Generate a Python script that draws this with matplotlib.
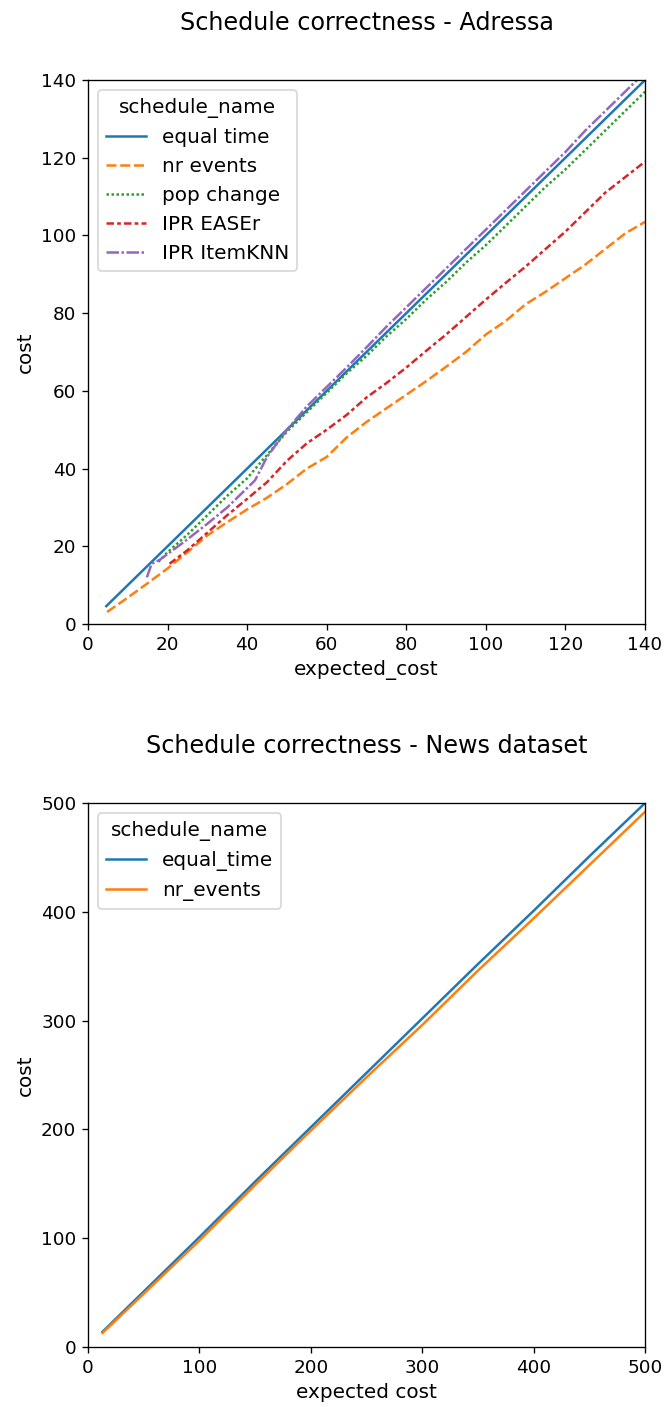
import matplotlib.pyplot as plt

# Adressa schedules (expected_cost -> cost)
eq_x = [4.6, 10, 20, 30, 40, 50, 60, 70, 80, 90, 100, 110, 120, 130, 140]
eq_y = [4.6, 10, 20, 30, 40, 50, 60, 70, 80, 90, 100, 110, 120, 130, 140]

nr_x = [4.8, 10, 15, 20, 25, 30, 35, 40, 45, 50, 55, 60, 65, 70, 75, 80, 85, 90,
        95, 100, 105, 110, 115, 120, 125, 130, 135, 140]
nr_y = [3.1, 6.8, 10.5, 14.3, 18.5, 22.8, 26.2, 29.5, 32.5, 36.0, 40.0, 43.0, 48.0,
        52.0, 55.5, 59.0, 62.5, 66.2, 70.0, 74.5, 78.0, 82.3, 85.5, 89.0, 92.5,
        96.5, 100.5, 103.5]

pop_x = [17.7, 20, 25, 30, 35, 40, 45, 50, 55, 60, 65, 70, 75, 80, 85, 90, 95,
         100, 105, 110, 115, 120, 125, 130, 135, 140]
pop_y = [16.0, 18.5, 23.0, 28.0, 33.0, 37.5, 43.5, 49.5, 54.5, 59.5, 64.5, 69.0,
         74.0, 78.5, 83.5, 88.0, 93.0, 97.5, 102.5, 107.5, 112.5, 117.0, 122.0,
         127.0, 132.0, 137.0]

ease_x = [20.5, 25, 30, 35, 40, 45, 50, 55, 60, 65, 70, 75, 80, 85, 90, 95, 100,
          105, 110, 115, 120, 125, 130, 135, 140]
ease_y = [15.5, 19.0, 23.5, 28.0, 32.2, 36.5, 42.0, 46.5, 50.0, 53.8, 58.3, 62.0,
          66.0, 70.3, 74.5, 79.0, 83.5, 87.8, 92.0, 96.5, 101.0, 106.0, 111.0,
          115.0, 119.0]

knn_x = [14.8, 16, 18, 20, 25, 30, 35, 40, 42, 45, 50, 55, 60, 65, 70, 75, 80, 85,
         90, 95, 100, 105, 110, 115, 120, 125, 130, 135, 140]
knn_y = [12.0, 15.5, 16.5, 18.0, 21.8, 25.8, 30.0, 35.0, 37.0, 43.0, 50.0, 56.0,
         61.0, 66.0, 71.2, 76.5, 81.5, 86.5, 91.5, 96.5, 101.5, 106.5, 111.5,
         116.5, 121.5, 127.0, 132.0, 137.0, 142.0]

# News dataset
news_x = [13, 50, 100, 150, 200, 250, 300, 350, 400, 450, 500]
news_eq = [14, 51, 101, 152, 202, 252, 302, 352, 401, 451, 500]
news_nr = [13, 49, 98, 149, 199, 248, 296, 346, 394, 443, 492]

blue, orange, green, red, purple = '#1f77b4', '#ff7f0e', '#2ca02c', '#d62728', '#9467bd'

plt.rcParams['font.family'] = ['DejaVu Sans']
plt.rcParams['xtick.labelsize'] = 11
plt.rcParams['ytick.labelsize'] = 11
plt.rcParams['axes.labelsize'] = 12
plt.rcParams['axes.titlesize'] = 14.3
plt.rcParams['legend.fontsize'] = 12
plt.rcParams['legend.title_fontsize'] = 12

fig = plt.figure(figsize=(665 / 120, 1407 / 120), dpi=120)
ax1 = fig.add_axes([0.1323, 0.5565, 0.8376, 0.3866])
ax2 = fig.add_axes([0.1323, 0.0426, 0.8376, 0.3866])

lw = 1.5
ax1.plot(eq_x, eq_y, color=blue, lw=lw, label='equal time')
ax1.plot(nr_x, nr_y, color=orange, lw=lw, dashes=(4, 1.5), label='nr events')
ax1.plot(pop_x, pop_y, color=green, lw=lw, dashes=(1, 1), label='pop change')
ax1.plot(ease_x, ease_y, color=red, lw=lw, dashes=(3, 1.25, 1.5, 1.25), label='IPR EASEr')
ax1.plot(knn_x, knn_y, color=purple, lw=lw, dashes=(5, 1, 1, 1), label='IPR ItemKNN')
ax1.set_xlim(0, 140)
ax1.set_ylim(0, 140)
ax1.set_xlabel('expected_cost')
ax1.set_ylabel('cost')
ax1.set_title('Schedule correctness - Adressa', pad=30)
ax1.legend(title='schedule_name', loc='upper left')

ax2.plot(news_x, news_eq, color=blue, lw=lw, label='equal_time')
ax2.plot(news_x, news_nr, color=orange, lw=lw, label='nr_events')
ax2.set_xlim(0, 500)
ax2.set_ylim(0, 500)
ax2.set_xlabel('expected cost')
ax2.set_ylabel('cost')
ax2.set_title('Schedule correctness - News dataset', pad=30)
ax2.legend(title='schedule_name', loc='upper left')

fig.savefig('out.png', dpi=120)
